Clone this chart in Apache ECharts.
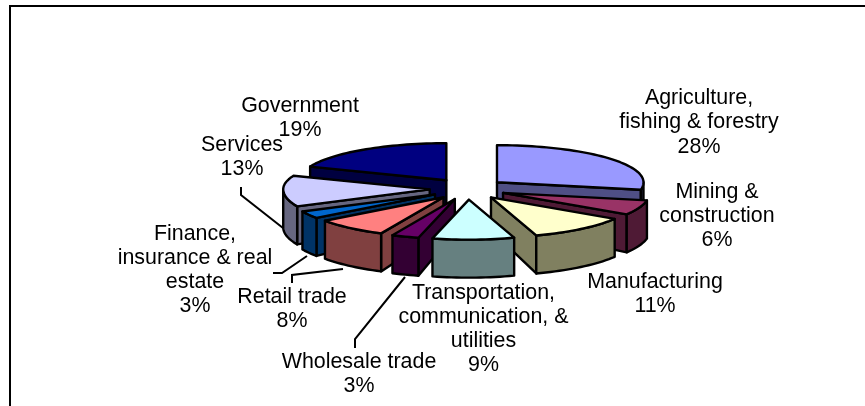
<!DOCTYPE html>
<html>
<head>
<meta charset="utf-8">
<style>html,body{margin:0;padding:0;background:#fff}#c{width:865px;height:406px}</style>
<script src="https://cdn.jsdelivr.net/npm/echarts@6/dist/echarts.min.js"></script>
</head>
<body>
<div id="c"></div>
<script>
const categories = ['Agriculture,\nfishing & forestry','Mining &\nconstruction','Manufacturing','Transportation,\ncommunication, &\nutilities','Wholesale trade','Retail trade','Finance,\ninsurance & real\nestate','Services','Government'];
const percents = [28,6,11,9,3,8,3,13,19];
const topColors = ['#9999FF','#993366','#FFFFCC','#CCFFFF','#660066','#FF8080','#0066CC','#CCCCFF','#000080'];
const wallColors = ['#4F4F85','#4F1A35','#808060','#668080','#330033','#804040','#003366','#666680','#000040'];

// layout of the tilted pie
const CX = 467.7, CY = 189, RX = 146.5, RY_BACK = 37, RY_FRONT = 40, EXPLODE = 38, EXPLODE_Y = 0.28, H_APEX = 33, H_RIM = 38;
// label centres and leader lines, in the order of categories
const labelAt = [[699,122.5],[717,216],[655,294.5],[483.5,329],[359,374.5],[292,309],[195,270],[242,157.5],[300,118]];
const leaders = [
  [[241,187],[241,195],[283,228]],
  [[273,273],[282,273],[307,256]],
  [[292,283],[292,275],[343,269]],
  [[355,348],[355,339],[405,277]]
];

const rad = d => d * Math.PI / 180;
const total = percents.reduce((a,b)=>a+b,0);
let acc = 0;
const slices = percents.map((v,i)=>{
  const a0 = acc/total*360; acc += v; const a1 = acc/total*360;
  const mid = rad((a0+a1)/2);
  return {i, a0, a1, ax: CX + EXPLODE*Math.sin(mid), ay: CY - EXPLODE*EXPLODE_Y*Math.cos(mid), back: Math.cos(mid)};
});
// painter's order: back slices first
const order = slices.slice().sort((p,q)=>q.back-p.back);

function rim(s, deg){
  const c = Math.cos(rad(deg));
  const ry = c > 0 ? RY_BACK : RY_FRONT;
  return [s.ax + RX*Math.sin(rad(deg)), s.ay - ry*c];
}
function renderItem(params, api){
  const s = slices[api.value(0)];
  const style = (fill)=>({fill, stroke:'#000', lineWidth:2.4, lineJoin:'round'});
  const children = [];
  const poly = (points, fill)=>children.push({type:'polygon', shape:{points}, style:style(fill)});
  const wall = wallColors[s.i];
  const apex = [s.ax, s.ay];
  const down = (p,h)=>[p[0],p[1]+h];
  const cut = (deg)=>{
    const r = rim(s,deg);
    poly([apex, r, down(r,H_RIM), down(apex,H_APEX)], wall);
  };
  if (Math.cos(rad(s.a0-90)) < 0) cut(s.a0);
  if (Math.cos(rad(s.a1+90)) < 0) cut(s.a1);
  // outer wall: only the part turned to the viewer
  const f0 = Math.max(s.a0, 90), f1 = Math.min(s.a1, 270);
  if (f1 > f0){
    const up = [], lo = [];
    const n = Math.max(2, Math.ceil((f1-f0)/2));
    for (let k=0;k<=n;k++){
      const p = rim(s, f0+(f1-f0)*k/n);
      up.push(p); lo.unshift(down(p,H_RIM));
    }
    poly(up.concat(lo), wall);
  }
  const topPts = [apex];
  const n = Math.max(2, Math.ceil((s.a1-s.a0)/2));
  for (let k=0;k<=n;k++) topPts.push(rim(s, s.a0+(s.a1-s.a0)*k/n));
  poly(topPts, topColors[s.i]);
  return {type:'group', children};
}

const graphics = [
  {type:'polyline', shape:{points:[[10,406],[10,6],[865,6]]}, style:{fill:null, stroke:'#000', lineWidth:2}, z:1}
];
leaders.forEach(points=>graphics.push({type:'polyline', shape:{points}, style:{fill:null, stroke:'#000', lineWidth:2}, z:1}));
categories.forEach((name,i)=>graphics.push({
  type:'text', x:labelAt[i][0], y:labelAt[i][1], z:10,
  style:{text:name+'\n'+percents[i]+'%', fill:'#000', font:'21.4px "Liberation Sans", Arial, sans-serif', lineHeight:24.2, align:'center', verticalAlign:'middle'}
}));

const chart = echarts.init(document.getElementById('c'), null, {renderer:'canvas'});
chart.setOption({
  animation:false,
  backgroundColor:'#fff',
  graphic:{elements:graphics},
  series:[{
    type:'custom',
    coordinateSystem:'none',
    renderItem,
    silent:true,
    encode:{value:1},
    data: order.map(s=>[s.i, percents[s.i], categories[s.i]])
  }]
});
</script>
</body>
</html>
